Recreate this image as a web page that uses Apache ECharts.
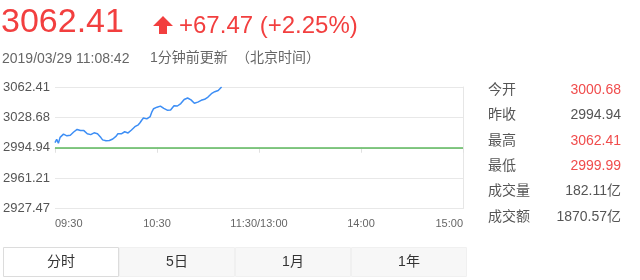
<!DOCTYPE html>
<html>
<head>
<meta charset="utf-8">
<script src="https://cdn.jsdelivr.net/npm/echarts@6/dist/echarts.min.js"></script>
<style>
  html, body { margin: 0; padding: 0; background: #fff; }
  #chart { width: 640px; height: 280px; }
</style>
</head>
<body>
<div id="chart"></div>
<script>
// Shanghai Composite intraday snapshot
const lastPrice = '3062.41';
const change = '+67.47 (+2.25%)';
const updated = '2019/03/29 11:08:42';
const updatedNote = '1分钟前更新';
const timeZone = '（北京时间）';
const prevClose = 2994.94;

// y tick labels, bottom to top (±2.25% around the previous close)
const yTicks = ['2927.47', '2961.21', '2994.94', '3028.68', '3062.41'];
const yHalfRange = 67.47;
// x tick labels every 60 trading minutes
const xTicks = ['09:30', '10:30', '11:30/13:00', '14:00', '15:00'];
const tradingMinutes = 240;

// one price per minute from 09:30
const prices = [
  3000.68, 3004.2, 2999.99, 3006.5, 3008.6, 3010.1, 3009.6, 3008.2, 3007.9, 3008.9,
  3010.6, 3012.4, 3013.8, 3015.3, 3015.0, 3014.1, 3013.6, 3014.0, 3012.2, 3010.4,
  3009.2, 3009.5, 3010.7, 3011.5, 3011.8, 3010.6, 3009.0, 3006.2, 3003.7, 3002.9,
  3002.7, 3002.9, 3003.0, 3003.9, 3004.6, 3006.2, 3007.8, 3010.5, 3011.8, 3010.4,
  3011.9, 3012.7, 3010.6, 3011.4, 3013.3, 3014.6, 3016.8, 3018.3, 3019.0, 3020.4,
  3022.7, 3025.5, 3027.9, 3028.8, 3027.0, 3025.6, 3029.6, 3034.8, 3038.3, 3039.2,
  3040.0, 3041.0, 3041.2, 3039.4, 3038.6, 3037.9, 3036.7, 3036.4, 3036.9, 3038.2,
  3041.6, 3042.6, 3041.3, 3041.9, 3044.0, 3046.3, 3048.6, 3049.8, 3050.2, 3049.6,
  3048.1, 3046.2, 3044.3, 3044.6, 3045.6, 3046.7, 3047.6, 3048.3, 3048.8, 3049.2,
  3051.3, 3053.2, 3055.0, 3056.2, 3057.2, 3057.9, 3058.6, 3059.9, 3062.41
];

// quote panel
const statLabels = ['今开', '昨收', '最高', '最低', '成交量', '成交额'];
const statValues = ['3000.68', '2994.94', '3062.41', '2999.99', '182.11亿', '1870.57亿'];
const statUp = [true, false, true, true, false, false];

// period tabs
const tabs = ['分时', '5日', '1月', '1年'];

const FONT = '"Liberation Sans", Arial, "Noto Sans CJK SC", sans-serif';
const RED = '#f23f3f';
const GREY = '#666';

const graphics = [];
graphics.push({
  type: 'text', left: 1, top: 6,
  style: { text: lastPrice, fill: RED, font: '34px ' + FONT }
});
graphics.push({
  type: 'polygon',
  shape: { points: [[163, 16], [173, 26], [167, 26], [167, 34], [159, 34], [159, 26], [153, 26]] },
  style: { fill: RED }
});
graphics.push({
  type: 'text', left: 179, top: 14,
  style: { text: change, fill: RED, font: '24px ' + FONT }
});
graphics.push({
  type: 'text', left: 2, top: 52,
  style: { text: updated, fill: GREY, font: '14px ' + FONT }
});
graphics.push({
  type: 'text', left: 150, top: 51,
  style: { text: updatedNote, fill: GREY, font: '14px ' + FONT }
});
graphics.push({
  type: 'text', left: 236, top: 51,
  style: { text: timeZone, fill: GREY, font: '14px ' + FONT }
});

statLabels.forEach((lab, i) => {
  const y = 90 + i * 25.4;
  graphics.push({
    type: 'text', x: 488, y: y,
    style: { text: lab, fill: '#555', font: '14px ' + FONT, verticalAlign: 'middle', align: 'left' }
  });
  graphics.push({
    type: 'text', x: 621, y: y,
    style: { text: statValues[i], fill: statUp[i] ? '#f04c4c' : '#555', font: '14px ' + FONT, verticalAlign: 'middle', align: 'right' }
  });
});

const tabW = 116, tabX0 = 3, tabY = 247, tabH = 30;
tabs.forEach((t, i) => {
  const active = i === 0;
  graphics.push({
    type: 'rect',
    shape: { x: tabX0 + i * tabW + 0.5, y: tabY + 0.5, width: tabW - 1, height: tabH - 1 },
    style: { fill: active ? '#fff' : '#f7f7f7', stroke: active ? '#dcdcdc' : '#f0f0f0', lineWidth: 1 }
  });
  graphics.push({
    type: 'text', x: tabX0 + i * tabW + tabW / 2, y: tabY + tabH / 2,
    style: { text: t, fill: '#333', font: '14px ' + FONT, align: 'center', verticalAlign: 'middle' }
  });
});

const chart = echarts.init(document.getElementById('chart'), null, { renderer: 'canvas' });
chart.setOption({
  animation: false,
  backgroundColor: '#fff',
  grid: { left: 54, right: 177, top: 87, bottom: 71.5, containLabel: false },
  xAxis: {
    type: 'value', min: 0, max: tradingMinutes, interval: 60,
    axisLine: { show: true, lineStyle: { color: '#e0e0e0' } },
    axisTick: { show: true, length: 5, lineStyle: { color: '#e0e0e0' } },
    splitLine: { show: false },
    axisLabel: {
      color: GREY, fontSize: 11, fontFamily: FONT, margin: 10,
      alignMinLabel: 'left', alignMaxLabel: 'right',
      formatter: v => xTicks[Math.round(v / 60)]
    }
  },
  yAxis: [{
    type: 'value', min: -yHalfRange, max: yHalfRange, interval: yHalfRange / 2,
    axisLine: { show: false },
    axisTick: { show: false },
    splitLine: { show: true, lineStyle: { color: '#e8e8e8' } },
    axisLabel: {
      color: '#555', fontSize: 13, fontFamily: FONT, margin: 5,
      formatter: (v, i) => yTicks[Math.round((v + yHalfRange) / (yHalfRange / 2))]
    }
  }, {
    type: 'value', position: 'right', min: -yHalfRange, max: yHalfRange,
    axisLine: { show: true, lineStyle: { color: '#e6e6e6' } },
    axisTick: { show: false }, axisLabel: { show: false }, splitLine: { show: false }
  }],
  series: [{
    type: 'line',
    data: prices.map((p, i) => [i, p - prevClose]),
    showSymbol: false,
    smooth: false,
    lineStyle: { color: '#3d8ef5', width: 1.5 },
    markLine: {
      silent: true, symbol: 'none', label: { show: false },
      lineStyle: { color: '#5cb85c', width: 1.5, type: 'solid' },
      data: [{ yAxis: prevClose - prevClose }]
    }
  }],
  graphic: graphics
});
</script>
</body>
</html>
